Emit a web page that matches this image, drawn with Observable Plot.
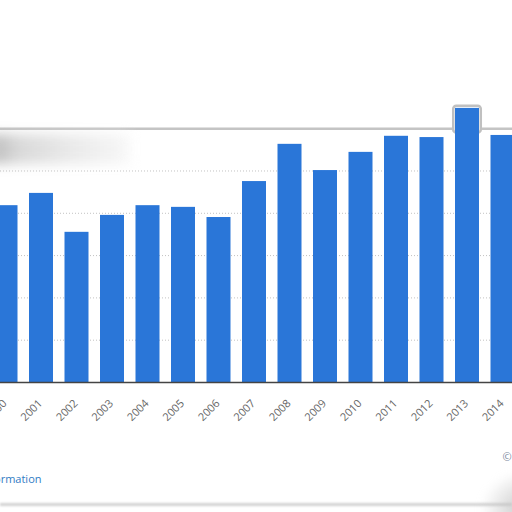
<!DOCTYPE html>
<html><head><meta charset="utf-8">
<script src="https://cdn.jsdelivr.net/npm/d3@7"></script>
<script src="https://cdn.jsdelivr.net/npm/@observablehq/plot@0.6"></script>
<style>
html,body{margin:0;padding:0;background:#fff;overflow:hidden;width:512px;height:512px}
#wrap{position:relative;width:512px;height:512px;overflow:hidden}
#blob{position:absolute;left:-10px;top:134px;width:140px;height:30px;background:linear-gradient(90deg,#a8a8a8 0%,#d0d0d0 20%,#e6e6e6 60%,#f6f6f6 100%);filter:blur(6px);opacity:.8}
#foot{position:absolute;left:0;top:503px;width:512px;height:3px;background:#d2d2d2;filter:blur(0.8px)}
#shadow{position:absolute;left:480px;top:470px;width:60px;height:50px;background:radial-gradient(ellipse at 80% 80%,#c4c4c4 0%,rgba(255,255,255,0) 70%);filter:blur(4px)}
.soft{filter:blur(0.7px)}
</style></head><body><div id="wrap"><div id="chart"></div><div id="blob"></div><div id="foot"></div><div id="shadow"></div></div>
<script>
const years = [2000,2001,2002,2003,2004,2005,2006,2007,2008,2009,2010,2011,2012,2013,2014];
const values = [4.18,4.47,3.55,3.95,4.18,4.14,3.90,4.75,5.63,5.01,5.44,5.82,5.79,6.48,5.84];
const gridTicks = [1,2,3,4,5];
const bannerTick = [6];
const footerLeft = ["Additional Information"];
const footerRight = ["© Statista 2021"];

const data = years.map((year,i)=>({year, value: values[i]}));
const maxVal = d3.max(values);
const half = 0.338;

const chart = Plot.plot({
  width:512, height:512,
  marginTop:0, marginBottom:0, marginLeft:0, marginRight:0,
  x:{type:"linear", domain:[2000,2014], range:[5.5,502.5], axis:null},
  y:{type:"linear", domain:[0,9.03], range:[382,0], axis:null},
  style:{background:"#fff", fontFamily:"'Open Sans', sans-serif", overflow:"hidden"},
  marks:[
    Plot.ruleY(gridTicks,{stroke:"#c2c2c2", strokeDasharray:"1,2", strokeWidth:1}),
    Plot.ruleY(bannerTick,{stroke:"#c4c4c4", strokeWidth:2.5, className:"soft"}),
    Plot.rectY(data.filter(d=>d.value===maxVal),{x1:d=>d.year-half-0.05, x2:d=>d.year+half+0.05, y1:5.9, y2:d=>d.value+0.05, fill:"#fff", stroke:"#c0c0c0", strokeWidth:2.5, rx:3, className:"soft"}),
    Plot.rectY(data,{x1:d=>d.year-half, x2:d=>d.year+half, y1:0, y2:"value", fill:"#2a76d8"}),
    Plot.ruleY([0],{stroke:"#444", strokeWidth:1.5}),
    Plot.text(data,{x:"year", y:0, text:d=>String(d.year), rotate:-45, textAnchor:"end", lineAnchor:"middle", dx:-1, dy:19, fill:"#666", fontSize:11}),
    Plot.text(footerLeft,{frameAnchor:"bottom-left", text:d=>d, textAnchor:"end", lineAnchor:"middle", dx:41, dy:-33, fill:"#2f7cc4", fontSize:11}),
    Plot.text(footerRight,{frameAnchor:"bottom-right", text:d=>d, textAnchor:"start", lineAnchor:"middle", dx:-10, dy:-55, fill:"#7d8aa0", fontSize:11})
  ]
});
document.getElementById("chart").appendChild(chart);
</script></body></html>
